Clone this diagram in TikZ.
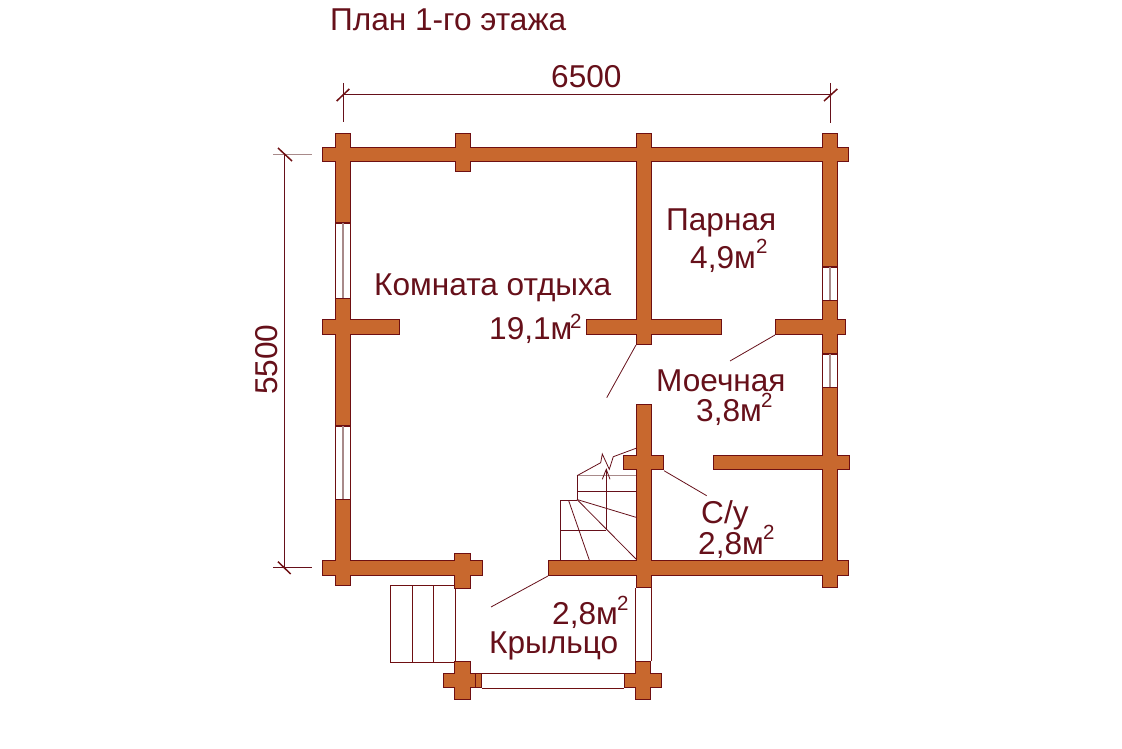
\documentclass[tikz,border=0pt]{standalone}
\usepackage{fontspec}
\setmainfont{Liberation Sans}
\definecolor{wallfill}{HTML}{C8682E}
\definecolor{wallline}{HTML}{6E0F12}
\definecolor{inkc}{HTML}{66101A}
\definecolor{glass}{HTML}{A88A8A}
\newcommand{\wallrects}[2]{%
  \foreach \xa/\ya/\xb/\yb in {
    322/147/849/162, 335/133/351/223, 455/133/471/172, 636/133/652/345,
    822/133/838/267, 322/319/400/335, 335/298/351/426, 586/319/722/335,
    822/300/838/354, 775/319/846/335, 822/387/838/588, 713/455/850/470,
    548/560/849/576, 636/404/652/588, 623/455/664/470, 335/499/351/586,
    322/560/483/576, 454/553/471/589, 454/661/471/700, 443/673/482/688,
    635/661/651/700, 624/673/662/688}
  {\fill[#1] ([shift={(#2,#2)}]\xa,\ya) rectangle ([shift={(-#2,-#2)}]\xb,\yb);}}
\tikzset{
  thinln/.style={draw=inkc,line width=0.8pt},
  winln/.style={draw=wallline,line width=0.9pt,fill=white},
  lbl/.style={text=inkc,font=\fontsize{31.6}{32}\selectfont,inner sep=0pt,anchor=base west},
  sups/.style={text=inkc,font=\fontsize{20.5}{21}\selectfont,inner sep=0pt,anchor=base west}
}
\begin{document}
\begin{tikzpicture}[x=1pt,y=-1pt]
\useasboundingbox (0,0) rectangle (1122,749);
% windows
\foreach \xa/\ya/\xb/\yb in {335.5/223/350.5/298, 335.5/426/350.5/499, 822.5/267/837.5/300, 822.5/354/837.5/387}{
  \path[winln] (\xa,\ya) rectangle (\xb,\yb);
}
\draw[glass,line width=1.4pt] (343,223) -- (343,298);
\draw[glass,line width=1.4pt] (343,426) -- (343,499);
\draw[glass,line width=1.2pt] (830,267) -- (830,300);
\draw[glass,line width=1.2pt] (830,354) -- (830,387);
% porch openings
\draw[wallline,line width=0.9pt] (635.5,588) -- (635.5,661) (651,588) -- (651,661);
\draw[wallline,line width=0.9pt] (482,673.5) -- (624,673.5) (482,688) -- (624,688);
% porch steps
\draw[wallline,line width=0.8pt] (390,585) rectangle (455,662);
\draw[wallline,line width=0.8pt] (412.7,585) -- (412.7,662) (433,585) -- (433,662);
% interior stair
\draw[thinln] (560.7,560) -- (560.7,500.7) -- (577,500.7) (577,499.5) -- (577,475.7);
\draw[glass,line width=1.3pt] (577,475.7) -- (636,475.7);
\draw[thinln] (577,491.7) -- (636,491.7);
\draw[thinln] (577,499.5) -- (636,517.3);
\draw[thinln] (577,499.5) -- (636,559);
\draw[thinln] (560.7,530.3) -- (606.3,530.3);
\draw[thinln] (568.7,500.7) -- (589.3,560);
\draw[thinln] (606.3,530.3) -- (606.3,469.3);
\draw[thinln] (602.3,479.3) -- (606.3,469.3) -- (610,479.3);
\draw[thinln] (577,475.7) -- (600.7,462.7) -- (602.3,454) -- (609.3,469.3) -- (613.3,456.7) -- (636,448.3);
% walls
\wallrects{wallline}{0}
\wallrects{wallfill}{1.3}
\draw[wallline,line width=0.8pt] (475.7,673) -- (475.7,688);
% leaders
\draw[thinln] (636,345) -- (606.7,397.7);
\draw[thinln] (775,335) -- (730,361);
\draw[thinln] (664,470.7) -- (706.7,495.7);
\draw[thinln] (548,576) -- (491,607);
% dimensions
\draw[thinln] (343,94.7) -- (830,94.7);
\draw[thinln] (343,83) -- (343,122);
\draw[thinln] (830,83) -- (830,122.7);
\draw[draw=wallline,line width=1.5pt] (336.7,101) -- (349.3,89);
\draw[draw=wallline,line width=1.5pt] (824,101) -- (837.3,89);
\draw[thinln] (284.5,154.7) -- (284.5,567);
\draw[glass,line width=1pt] (273,154.7) -- (312,154.7);
\draw[thinln] (273,567) -- (312,567);
\draw[draw=wallline,line width=1.5pt] (278,148) -- (292,161);
\draw[draw=wallline,line width=1.5pt] (278,561.7) -- (290.7,574);
% labels
\node[lbl] (title) at (330,31) {План 1-го этажа};
\node[lbl] (dimw) at (551,88) {6500};
\node[lbl,rotate=90] (dimh) at (277,395) {5500};
\node[lbl] (kom) at (374,295) {Комната отдыха};
\node[lbl] (koma) at (489,339) {19,1м};
\node[sups] (komb) at (570,328) {2};
\node[lbl] (par) at (666,230) {Парная};
\node[lbl] (para) at (690,268) {4,9м};
\node[sups] (parb) at (756,253) {2};
\node[lbl] (moe) at (656,391) {Моечная};
\node[lbl] (moea) at (696,421) {3,8м};
\node[sups] (moeb) at (761,407) {2};
\node[lbl] (su) at (701,523) {С/у};
\node[lbl] (sua) at (698,554) {2,8м};
\node[sups] (sub) at (763,539) {2};
\node[lbl] (kr) at (552,624) {2,8м};
\node[sups] (krb) at (617,610) {2};
\node[lbl] (kra) at (489,653) {Крыльцо};
\end{tikzpicture}
\end{document}
